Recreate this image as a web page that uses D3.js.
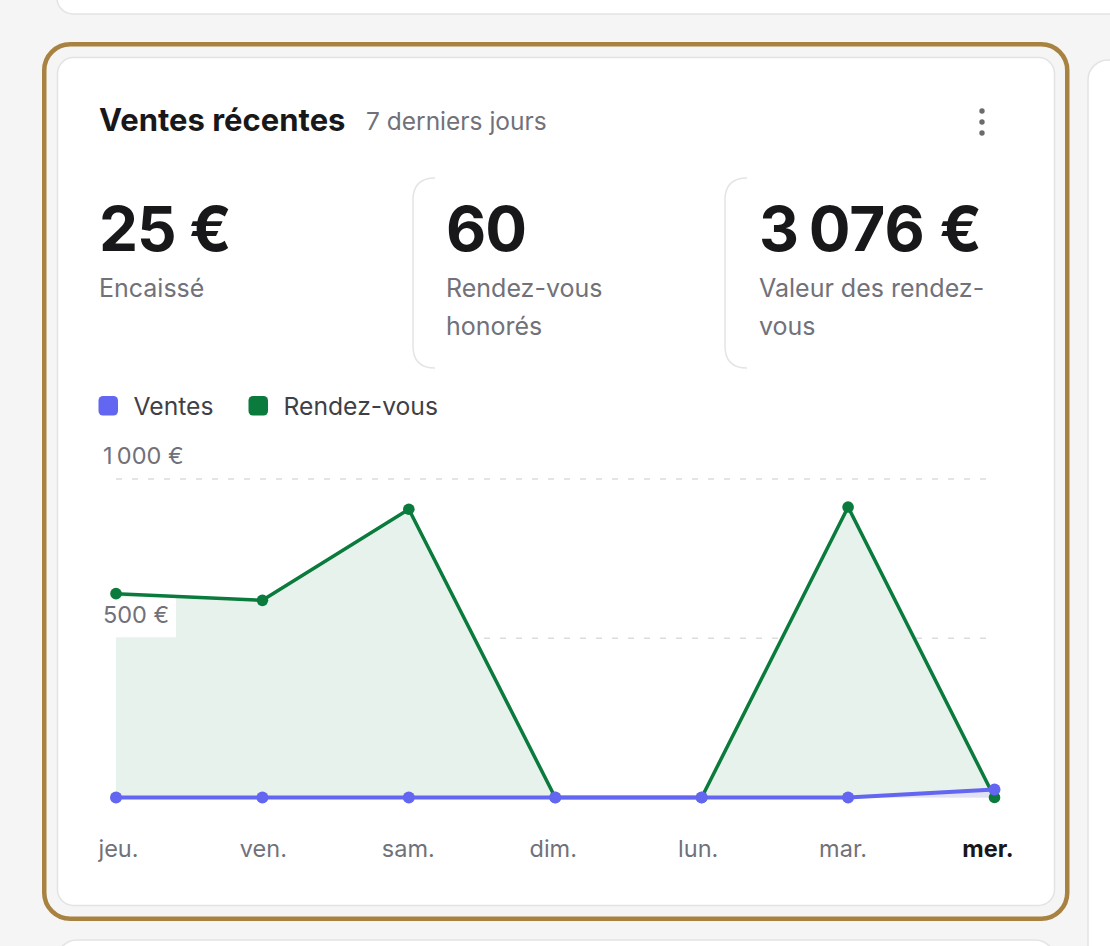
<!DOCTYPE html>
<html><head><meta charset="utf-8">
<script src="https://cdn.jsdelivr.net/npm/d3@7"></script>
<style>
html,body{margin:0;padding:0;background:#f5f5f5;}
svg{display:block;font-family:Inter,"Noto Sans",sans-serif;}
</style></head>
<body>
<svg id="c" width="1110" height="946"></svg>
<script>
// ---- data ----
const days = ["jeu.","ven.","sam.","dim.","lun.","mar.","mer."];
const ventes = [0,0,0,0,0,0,25];
const rendezVous = [640,619,905,0,0,912,0];
const yTicks = [500,1000];
const seriesNames = ["Ventes","Rendez-vous"];
const kpiValues = [25,60,3076];
const kpiUnits = ["€","","€"];
const kpiLabels = [["Encaissé"],["Rendez-vous","honorés"],["Valeur des rendez-","vous"]];
const title = "Ventes récentes";
const subtitle = "7 derniers jours";

const fr = d3.formatLocale({decimal:",",thousands:"\u202f",grouping:[3],currency:["","\u00a0€"]});
const fmt = fr.format(",d");
const money = v => fmt(v) + "\u00a0€";

const colors = {ventes:"#6366f1", rdv:"#0b7a3d", rdvFill:"#e6f2eb", ventesFill:"#e1e1f3",
  text:"#18181b", muted:"#71717a", legend:"#3f3f46", grid:"#dcdcdc", gold:"#a88240", border:"#e3e3e3"};

const svg = d3.select("#c");

// ---- surrounding cards ----
svg.append("rect").attr("x",57).attr("y",-40).attr("width",1100).attr("height",54).attr("rx",16)
  .attr("fill","#fff").attr("stroke",colors.border).attr("stroke-width",1.5);
svg.append("rect").attr("x",1088).attr("y",60).attr("width",100).attr("height",940).attr("rx",20)
  .attr("fill","#fff").attr("stroke",colors.border).attr("stroke-width",1.5);
svg.append("rect").attr("x",57).attr("y",940).attr("width",998).attr("height",100).attr("rx",20)
  .attr("fill","#fff").attr("stroke",colors.border).attr("stroke-width",1.5);

// main card + gold focus ring
svg.append("rect").attr("x",44.25).attr("y",44.25).attr("width",1023).attr("height",874.5).attr("rx",26)
  .attr("fill","none").attr("stroke",colors.gold).attr("stroke-width",4.5);
svg.append("rect").attr("x",57.5).attr("y",57.5).attr("width",997).attr("height",848).attr("rx",16)
  .attr("fill","#fff").attr("stroke",colors.border).attr("stroke-width",1.5);

// ---- header ----
svg.append("text").attr("x",99).attr("y",131).attr("font-size",31).attr("font-weight",700)
  .attr("fill",colors.text).text(title);
svg.append("text").attr("x",366).attr("y",130).attr("font-size",24.5).attr("fill",colors.muted).text(subtitle);
svg.selectAll("circle.menu").data([0,1,2]).join("circle").attr("class","menu")
  .attr("cx",982).attr("cy",d=>111+d*11).attr("r",2.7).attr("fill","#6b6b6b");

// ---- KPI ----
const kpiX = [99,446,759];
const kpiSep = [413,725];
kpiSep.forEach(x=>{
  svg.append("path").attr("d",`M${x+22},178 Q${x},178 ${x},200 L${x},346 Q${x},368 ${x+22},368`)
    .attr("fill","none").attr("stroke","#e4e4e7").attr("stroke-width",1.5);
});
kpiValues.forEach((v,i)=>{
  svg.append("text").attr("x",kpiX[i]).attr("y",251).attr("font-size",62).attr("font-weight",700)
    .attr("fill",colors.text).attr("letter-spacing",-1)
    .text(kpiUnits[i] ? money(v) : fmt(v));
  const t = svg.append("text").attr("x",kpiX[i]).attr("y",297).attr("font-size",25).attr("fill",colors.muted);
  kpiLabels[i].forEach((l,j)=>t.append("tspan").attr("x",kpiX[i]).attr("dy",j?38:0).text(l));
});

// ---- legend ----
const legendX = [98.5,248.5];
const legendCol = [colors.ventes, colors.rdv];
seriesNames.forEach((n,i)=>{
  svg.append("rect").attr("x",legendX[i]).attr("y",396).attr("width",19.5).attr("height",19.5).attr("rx",4.5)
    .attr("fill",legendCol[i]);
  svg.append("text").attr("x",legendX[i]+35).attr("y",414.5).attr("font-size",24.7).attr("fill",colors.legend).text(n);
});

// ---- chart ----
const x = d3.scalePoint().domain(days).range([116,994.5]);
const xLabel = d3.scalePoint().domain(days).range([118,987.5]);
const y = d3.scaleLinear().domain([0,1000]).range([797.5,479]);
const gridX = [116,987];

const g = svg.append("g");
g.selectAll("line.grid").data(yTicks).join("line").attr("class","grid")
  .attr("x1",gridX[0]).attr("x2",gridX[1]).attr("y1",d=>y(d)).attr("y2",d=>y(d))
  .attr("stroke",colors.grid).attr("stroke-width",1.5).attr("stroke-dasharray","6 10");

const area = d3.area().x((d,i)=>x(days[i])).y0(y(0)).y1(d=>y(d));
const line = d3.line().x((d,i)=>x(days[i])).y(d=>y(d));

g.append("path").attr("d",area(rendezVous)).attr("fill",colors.rdvFill);
g.append("path").attr("d",area(ventes)).attr("fill",colors.ventesFill);

// y labels with white backgrounds
yTicks.forEach(t=>{
  g.append("rect").attr("x",99).attr("y",y(t)-41).attr("width",77).attr("height",40).attr("fill","#fff");
  g.append("text").attr("x",103).attr("y",y(t)-15).attr("font-size",23.5).attr("fill",colors.muted).text(money(t));
});

g.append("path").attr("d",line(rendezVous)).attr("fill","none").attr("stroke",colors.rdv).attr("stroke-width",3.5).attr("stroke-linejoin","round");
g.selectAll("circle.rdv").data(rendezVous).join("circle").attr("class","rdv")
  .attr("cx",(d,i)=>x(days[i])).attr("cy",d=>y(d)).attr("r",5.8).attr("fill",colors.rdv);
g.append("path").attr("d",line(ventes)).attr("fill","none").attr("stroke",colors.ventes).attr("stroke-width",4).attr("stroke-linejoin","round");
g.selectAll("circle.ven").data(ventes).join("circle").attr("class","ven")
  .attr("cx",(d,i)=>x(days[i])).attr("cy",d=>y(d)).attr("r",6).attr("fill",colors.ventes);

// x axis
const ax = g.append("g").call(d3.axisBottom(xLabel).tickSize(0));
ax.select(".domain").remove();
ax.selectAll("text").attr("y",857).attr("dy",0).attr("font-size",23.5).attr("font-family","Inter,'Noto Sans',sans-serif")
  .attr("fill",(d,i)=> i===days.length-1 ? colors.text : colors.muted)
  .attr("font-weight",(d,i)=> i===days.length-1 ? 700 : 400);
</script>
</body></html>
